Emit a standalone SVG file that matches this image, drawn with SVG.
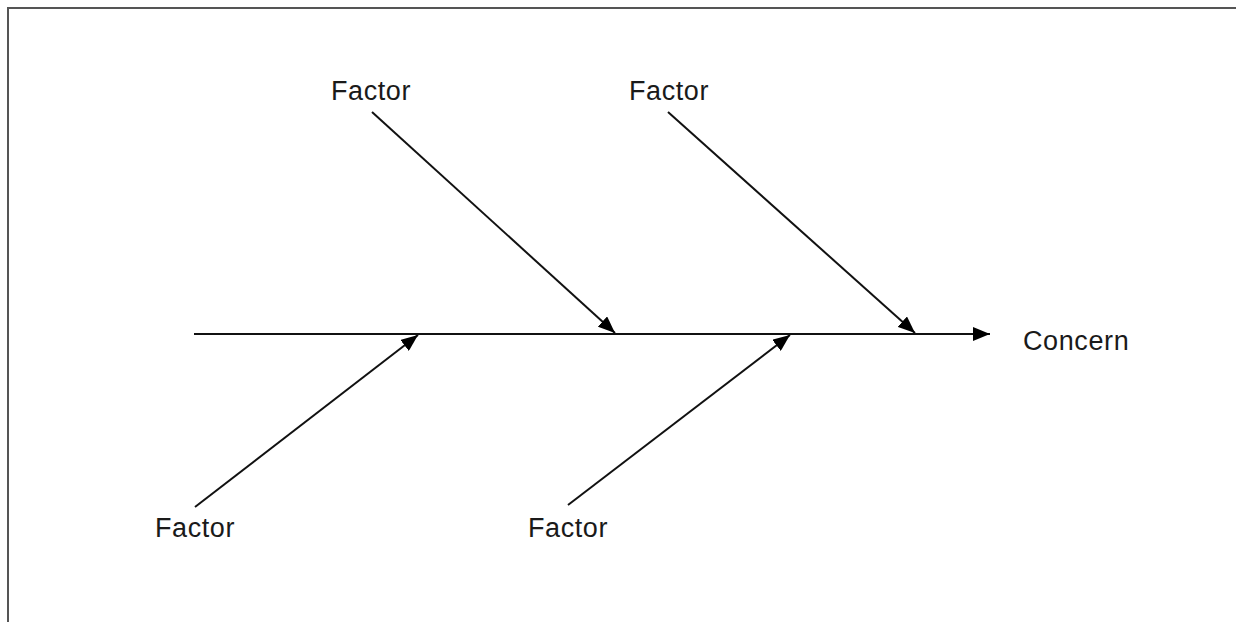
<svg xmlns="http://www.w3.org/2000/svg" width="1236" height="622" viewBox="0 0 1236 622">
<style>
.lbl{font-family:"Liberation Sans",Arial,sans-serif;font-size:27px;letter-spacing:0.6px;fill:#1a1a1a}
.ln{stroke:#111;stroke-width:2;fill:none}
.frame{stroke:#555;stroke-width:2;fill:none}
</style>
<defs>
<marker id="ah" markerWidth="17" markerHeight="14" refX="17" refY="7" orient="auto" markerUnits="userSpaceOnUse">
<path d="M0,0 L17,7 L0,14 Z" fill="#000"/>
</marker>
</defs>
<rect width="1236" height="622" fill="#fff"/>
<path class="frame" d="M8,622 L8,8 L1236,8"/>
<g id="connectors">
<line class="ln" x1="194" y1="334" x2="990" y2="334" marker-end="url(#ah)"/>
<line class="ln" x1="372" y1="112" x2="615" y2="333" marker-end="url(#ah)"/>
<line class="ln" x1="668" y1="112" x2="915" y2="333" marker-end="url(#ah)"/>
<line class="ln" x1="195" y1="507" x2="418" y2="335" marker-end="url(#ah)"/>
<line class="ln" x1="568" y1="505" x2="790" y2="335" marker-end="url(#ah)"/>
</g>
<g id="factor1"><text class="lbl" x="371" y="100" text-anchor="middle">Factor</text></g>
<g id="factor2"><text class="lbl" x="669" y="100" text-anchor="middle">Factor</text></g>
<g id="factor3"><text class="lbl" x="195" y="537" text-anchor="middle">Factor</text></g>
<g id="factor4"><text class="lbl" x="568" y="537" text-anchor="middle">Factor</text></g>
<g id="concern"><text class="lbl" x="1023" y="350">Concern</text></g>
</svg>
